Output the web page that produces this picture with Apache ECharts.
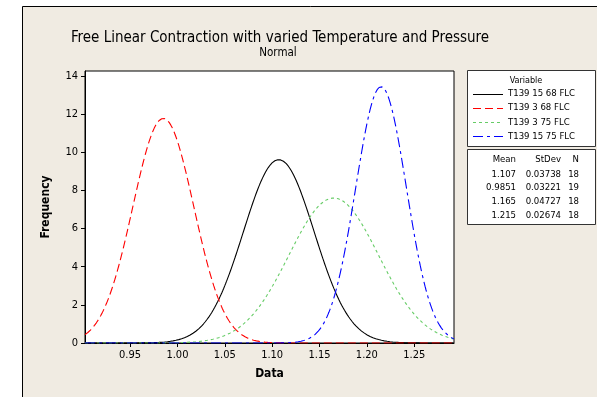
<!DOCTYPE html>
<html>
<head>
<meta charset="utf-8">
<script src="https://cdn.jsdelivr.net/npm/echarts@6/dist/echarts.min.js"></script>
<style>
  html, body { margin: 0; padding: 0; background: #ffffff; }
  #chart { width: 597px; height: 397px; }
</style>
</head>
<body>
<div id="chart"></div>
<script>
// Fitted normal curves for free linear contraction, one per test condition
const variables = ['T139 15 68 FLC', 'T139 3 68 FLC', 'T139 3 75 FLC', 'T139 15 75 FLC'];
const means = [1.107, 0.9851, 1.165, 1.215];
const stdevs = [0.03738, 0.03221, 0.04727, 0.02674];
const counts = [18, 19, 18, 18];
const meanLabels = ['1.107', '0.9851', '1.165', '1.215'];
const stdevLabels = ['0.03738', '0.03221', '0.04727', '0.02674'];
const binWidth = 0.05;           // histogram bin width used to scale density to frequency

const xTicks = [0.95, 1.00, 1.05, 1.10, 1.15, 1.20, 1.25];
const yTicks = [0, 2, 4, 6, 8, 10, 12, 14];
const xMin = 0.9024, xMax = 1.292;
const yMin = 0, yMax = 14.25;

const colors = ['#000000', '#ff0000', '#66cc66', '#0000ff'];
const dashes = ['solid', [8, 4], [3, 3], [10, 4, 3, 4]];

const FONT = '"DejaVu Sans Condensed", "DejaVu Sans", sans-serif';

// Normal density scaled by N * bin width (frequency per bin)
function fittedCurve(mu, sd, n) {
  const pts = [];
  const step = 0.0005;
  for (let x = xMin; x <= xMax + 1e-9; x += step) {
    const z = (x - mu) / sd;
    const y = n * binWidth * Math.exp(-0.5 * z * z) / (sd * Math.sqrt(2 * Math.PI));
    pts.push([x, y]);
  }
  return pts;
}

const series = variables.map((name, i) => ({
  name: name,
  type: 'line',
  data: fittedCurve(means[i], stdevs[i], counts[i]),
  showSymbol: false,
  symbol: 'none',
  clip: true,
  lineStyle: { color: colors[i], width: 1.1, type: dashes[i] },
  z: 3 + i
}));

// Legend box and statistics table drawn as graphic elements
const gx = 467;
const graphic = [
  { type: 'rect', left: 22, top: 6, shape: { width: 600, height: 400 },
    style: { fill: '#f0ebe2', stroke: '#000', lineWidth: 1 }, z: -10, silent: true },
  { type: 'rect', shape: { x: gx + 0.5, y: 70.5, width: 128, height: 76 },
    style: { fill: '#ffffff', stroke: '#333', lineWidth: 1 }, z: 1 },
  { type: 'rect', shape: { x: gx + 0.5, y: 149.5, width: 128, height: 75 },
    style: { fill: '#ffffff', stroke: '#333', lineWidth: 1 }, z: 1 },
  { type: 'text', x: 526, y: 81, style: { text: 'Variable', font: '9px ' + FONT,
    fill: '#000', align: 'center', verticalAlign: 'middle' }, z: 2 }
];
variables.forEach((name, i) => {
  const y = 93.5 + i * 14.3;
  const d = dashes[i] === 'solid' ? null : dashes[i];
  graphic.push({ type: 'line', shape: { x1: 473, y1: Math.round(y) + 0.5, x2: 503, y2: Math.round(y) + 0.5 },
    style: { stroke: colors[i], lineWidth: 1, lineDash: d }, z: 2 });
  graphic.push({ type: 'text', x: 508, y: y, style: { text: name, font: '9.5px ' + FONT,
    fill: '#000', align: 'left', verticalAlign: 'middle' }, z: 2 });
});
const colRight = [516, 561, 579];
['Mean', 'StDev', 'N'].forEach((h, j) => {
  graphic.push({ type: 'text', x: colRight[j], y: 160, style: { text: h, font: '9.5px ' + FONT,
    fill: '#000', align: 'right', verticalAlign: 'middle' }, z: 2 });
});
variables.forEach((name, i) => {
  const y = 174.3 + i * 13.6;
  [meanLabels[i], stdevLabels[i], String(counts[i])].forEach((t, j) => {
    graphic.push({ type: 'text', x: colRight[j], y: y, style: { text: t, font: '9.5px ' + FONT,
      fill: '#000', align: 'right', verticalAlign: 'middle' }, z: 2 });
  });
});

const chart = echarts.init(document.getElementById('chart'), null, { renderer: 'canvas' });
chart.setOption({
  animation: false,
  backgroundColor: '#ffffff',
  textStyle: { fontFamily: FONT },
  title: [
    { text: 'Free Linear Contraction with varied Temperature and Pressure', left: 275, top: 26,
      textAlign: 'center',
      textStyle: { fontFamily: FONT, fontSize: 15, fontWeight: 500, color: '#000' } },
    { text: 'Normal', left: 273, top: 42, textAlign: 'center',
      textStyle: { fontFamily: FONT, fontSize: 11.5, fontWeight: 'normal', color: '#000' } }
  ],
  grid: { left: 85, top: 71, width: 369, height: 272, show: true,
    backgroundColor: '#ffffff', borderColor: '#000', borderWidth: 1 },
  xAxis: {
    type: 'value', min: xMin, max: xMax,
    name: 'Data', nameLocation: 'middle', nameGap: 25,
    nameTextStyle: { fontFamily: FONT, fontSize: 12, fontWeight: 'bold', color: '#000' },
    axisLine: { show: true, onZero: false, lineStyle: { color: '#000', width: 1 } },
    axisTick: { show: true, length: 4, inside: false, customValues: xTicks,
      lineStyle: { color: '#000' } },
    axisLabel: { customValues: xTicks, margin: 7, color: '#000', fontSize: 11, fontFamily: FONT,
      formatter: v => v.toFixed(2) },
    splitLine: { show: false }
  },
  yAxis: {
    type: 'value', min: yMin, max: yMax,
    name: 'Frequency', nameLocation: 'middle', nameGap: 33, nameRotate: 90,
    nameTextStyle: { fontFamily: FONT, fontSize: 12, fontWeight: 'bold', color: '#000' },
    axisLine: { show: true, onZero: false, lineStyle: { color: '#000', width: 1 } },
    axisTick: { show: true, length: 4, inside: false, customValues: yTicks,
      lineStyle: { color: '#000' } },
    axisLabel: { customValues: yTicks, margin: 7, color: '#000', fontSize: 11, fontFamily: FONT },
    splitLine: { show: false }
  },
  graphic: graphic,
  series: series
});
</script>
</body>
</html>
